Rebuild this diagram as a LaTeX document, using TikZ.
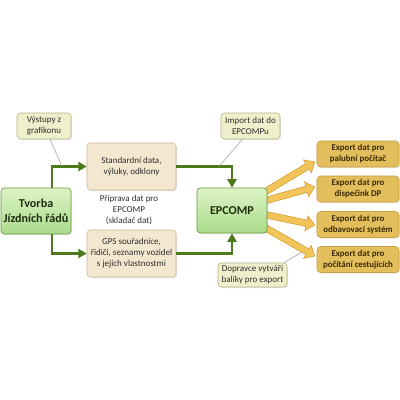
\documentclass[tikz,border=0pt]{standalone}
\usepackage{fontspec}
\setmainfont{Carlito}
\usetikzlibrary{calc,arrows.meta,shadows}
\pgfdeclarelayer{bg}
\pgfsetlayers{bg,main}
\definecolor{glight}{HTML}{DDF3C6}
\definecolor{gdark}{HTML}{A9DB8A}
\definecolor{gborder}{HTML}{6E9E45}
\definecolor{gtext}{HTML}{1E2E10}
\definecolor{gline}{HTML}{4C7A1C}
\definecolor{tfill}{HTML}{F3E7D0}
\definecolor{tborder}{HTML}{C9B993}
\definecolor{cfill}{HTML}{EFEFCB}
\definecolor{cborder}{HTML}{B5B58E}
\definecolor{efill}{HTML}{E3BE5C}
\definecolor{eborder}{HTML}{C9A043}
\definecolor{etext}{HTML}{3A2A05}
\definecolor{afill}{HTML}{F2C55A}
\definecolor{aborder}{HTML}{D39B34}
\begin{document}
\begin{tikzpicture}[x=0.025cm,y=-0.025cm,
  box/.style={rounded corners=2.5pt, align=center, inner sep=1pt, text=black!82,
    font=\fontsize{6.4}{7.8}\selectfont,
    drop shadow={shadow xshift=0.8pt, shadow yshift=-0.8pt, opacity=0.2}},
  greenbox/.style={box, draw=gborder, line width=0.5pt, top color=glight, bottom color=gdark,
    text=gtext, font=\bfseries\fontsize{8.6}{10.4}\selectfont},
  tanbox/.style={box, draw=tborder, line width=0.4pt, fill=tfill,
    minimum width=2.225cm, minimum height=1.175cm},
  callout/.style={box, draw=cborder, line width=0.4pt, fill=cfill},
  exportbox/.style={box, draw=eborder, line width=0.4pt, fill=efill, text=etext,
    font=\bfseries\fontsize{6.3}{7.8}\selectfont,
    minimum width=2.05cm, minimum height=0.65cm},
  flow/.style={draw=gline, line width=1.6pt, -{Triangle[length=6pt,width=6.5pt]}},
  note/.style={draw=black!45, line width=0.3pt},
  blockarrow/.style={fill=afill, draw=aborder, line width=0.4pt, line join=miter}
]
\useasboundingbox (0,0) rectangle (400,400);

% nodes
\node[callout, minimum width=1.35cm, minimum height=0.65cm] (vystupy) at (44,126) {Výstupy z\\grafikonu};
\node[greenbox, minimum width=1.75cm, minimum height=1.15cm] (tvorba) at (36,211) {Tvorba\\Jízdních řádů};
\node[tanbox] (standard) at (131.5,166.5) {Standardní data,\\výluky, odklony};
\node[tanbox] (gps) at (131.5,253.5) {GPS souřadnice,\\řidiči, seznamy vozidel\\s jejich vlastnostmi};
\node[align=center, text=black!82, font=\fontsize{6.4}{7.8}\selectfont] (priprava) at (129,210) {Příprava dat pro\\EPCOMP\\(skladač dat)};
\node[callout, minimum width=1.475cm, minimum height=0.65cm] (import) at (250.5,126) {Import dat do\\EPCOMPu};
\node[greenbox, minimum width=1.75cm, minimum height=1.125cm] (epcomp) at (232,210.5) {EPCOMP};
\node[exportbox] (ex1) at (358,154) {Export dat pro\\palubní počítač};
\node[exportbox] (ex2) at (358,189) {Export dat pro\\dispečink DP};
\node[exportbox] (ex3) at (358,224.5) {Export dat pro\\odbavovací systém};
\node[exportbox] (ex4) at (358,259.5) {Export dat pro\\počítání cestujících};
\node[callout, minimum width=1.725cm, minimum height=0.6cm] (dopravce) at (252.5,275) {Dopravce vytváří\\balíky pro export};

% block arrows behind EPCOMP
\begin{pgfonlayer}{bg}
\foreach \i/\sx/\sy/\ex/\ey in {1/-5/-17/-2/8, 2/-5/-9/-2/-2, 3/-5/3.5/-2/0.5, 4/-5/15.5/-2/-3.5}{
  \coordinate (s) at ($(epcomp.east)+(\sx,\sy)$);
  \coordinate (e) at ($(ex\i.west)+(\ex,\ey)$);
  \coordinate (b) at ($(e)!6pt!(s)$);
  \draw[blockarrow] ($(s)!2.3pt!90:(e)$) -- ($(b)!2.3pt!-90:(s)$) -- ($(b)!5.4pt!-90:(s)$)
    -- (e) -- ($(b)!5.4pt!90:(s)$) -- ($(b)!2.3pt!90:(s)$) -- ($(s)!2.3pt!-90:(e)$) -- cycle;
}
\end{pgfonlayer}

% flows
\draw[flow] ([xshift=0.4cm]tvorba.north) |- (standard.west);
\draw[flow] ([xshift=0.4cm]tvorba.south) |- (gps.west);
\draw[flow] (standard.east) -| (epcomp.north);
\draw[flow] (gps.east) -| (epcomp.south);

% callout leaders
\coordinate (c1) at (62,166.5);
\coordinate (c2) at (219,166.5);
\coordinate (c3) at (301,252.5);
\draw[note] ([xshift=0.15cm]vystupy.south) -- (c1);
\draw[note] ([xshift=-0.2cm]import.south) -- (c2);
\draw[note] ([xshift=-0.075cm]dopravce.north east) -- (c3);
\end{tikzpicture}
\end{document}
